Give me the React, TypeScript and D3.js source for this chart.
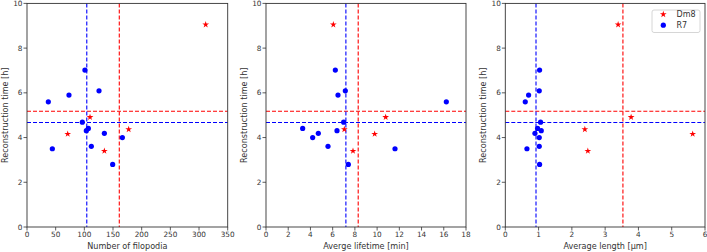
import React from "react";
import * as d3 from "d3";

// Reconstruction time [h] per cell
const r7Time = [7.02, 6.09, 5.9, 5.6, 4.69, 4.41, 4.31, 4.19, 4.0, 3.5, 3.61, 2.8];
const r7Filopodia = [101, 125.6, 73.2, 37.2, 96.5, 107, 103.5, 134.9, 166.3, 44.2, 112.2, 149.4];
const r7Lifetime = [6.24, 7.14, 6.48, 16.23, 6.99, 3.3, 6.39, 4.71, 4.2, 11.61, 5.58, 7.41];
const r7Length = [1.03, 1.02, 0.7, 0.6, 1.06, 0.97, 1.08, 0.89, 1.02, 0.65, 1.02, 1.03];

const dm8Time = [9.05, 4.91, 4.16, 4.37, 3.4];
const dm8Filopodia = [311.6, 109.9, 71, 177.3, 134.9];
const dm8Lifetime = [6.06, 10.77, 9.78, 7.05, 7.83];
const dm8Length = [3.39, 3.78, 5.63, 2.39, 2.48];

const yTicks = [0, 2, 4, 6, 8, 10];
const xTicks1 = [0, 50, 100, 150, 200, 250, 300, 350];
const xTicks2 = [0, 2, 4, 6, 8, 10, 12, 14, 16, 18];
const xTicks3 = [0, 1, 2, 3, 4, 5, 6];

const xLabels = ["Number of filopodia", "Averge lifetime [min]", "Average length [\u03bcm]"];
const yLabel = "Reconstruction time [h]";
const seriesNames = ["Dm8", "R7"];

const RED = "#ff0000";
const BLUE = "#0000ff";
const INK = "#333333";
const FONT = "DejaVu Sans, sans-serif";
const TICK_FS = 7.3;
const LABEL_FS = 8.1;

interface PanelProps {
  left: number;
  right: number;
  xMax: number;
  xTicks: number[];
  xLabel: string;
  r7X: number[];
  dm8X: number[];
  legend?: boolean;
}

const TOP = 3.4;
const BOTTOM = 227;

function Panel({ left, right, xMax, xTicks, xLabel, r7X, dm8X, legend }: PanelProps) {
  const x = d3.scaleLinear().domain([0, xMax]).range([left, right]);
  const y = d3.scaleLinear().domain([0, 10]).range([BOTTOM, TOP]);
  const star = d3.symbol().type(d3.symbolStar).size(14)() as string;

  const r7MeanX = d3.mean(r7X) as number;
  const dm8MeanX = d3.mean(dm8X) as number;
  const r7MeanY = d3.mean(r7Time) as number;
  const dm8MeanY = d3.mean(dm8Time) as number;

  return (
    <g>
      {/* mean lines */}
      <line x1={left} x2={right} y1={y(dm8MeanY)} y2={y(dm8MeanY)} stroke={RED} strokeWidth={1.1} strokeDasharray="4,2" />
      <line x1={left} x2={right} y1={y(r7MeanY)} y2={y(r7MeanY)} stroke={BLUE} strokeWidth={1.1} strokeDasharray="4,2" />
      <line x1={x(dm8MeanX)} x2={x(dm8MeanX)} y1={TOP} y2={BOTTOM} stroke={RED} strokeWidth={1.1} strokeDasharray="4,2" />
      <line x1={x(r7MeanX)} x2={x(r7MeanX)} y1={TOP} y2={BOTTOM} stroke={BLUE} strokeWidth={1.1} strokeDasharray="4,2" />

      {/* Dm8 */}
      {dm8X.map((v, i) => (
        <path key={"d" + i} d={star} transform={`translate(${x(v)},${y(dm8Time[i])})`} fill={RED} />
      ))}
      {/* R7 */}
      {r7X.map((v, i) => (
        <circle key={"r" + i} cx={x(v)} cy={y(r7Time[i])} r={2.6} fill={BLUE} />
      ))}

      {/* frame */}
      <rect x={left} y={TOP} width={right - left} height={BOTTOM - TOP} fill="none" stroke={INK} strokeWidth={0.9} />

      {/* x ticks */}
      {xTicks.map((t) => (
        <g key={"xt" + t}>
          <line x1={x(t)} x2={x(t)} y1={BOTTOM} y2={BOTTOM + 3.5} stroke={INK} strokeWidth={0.8} />
          <text x={x(t)} y={237.3} textAnchor="middle" fontSize={TICK_FS} fill={INK} fontFamily={FONT}>
            {t}
          </text>
        </g>
      ))}
      {/* y ticks */}
      {yTicks.map((t) => (
        <g key={"yt" + t}>
          <line x1={left - 3.5} x2={left} y1={y(t)} y2={y(t)} stroke={INK} strokeWidth={0.8} />
          <text x={left - 4.5} y={y(t) + 2.6} textAnchor="end" fontSize={TICK_FS} fill={INK} fontFamily={FONT}>
            {t}
          </text>
        </g>
      ))}

      <text x={(left + right) / 2} y={248.7} textAnchor="middle" fontSize={LABEL_FS} fill={INK} fontFamily={FONT}>
        {xLabel}
      </text>
      <text
        transform={`translate(${left - 19},${(TOP + BOTTOM) / 2}) rotate(-90)`}
        textAnchor="middle"
        fontSize={LABEL_FS}
        fill={INK}
        fontFamily={FONT}
      >
        {yLabel}
      </text>

      {legend && (
        <g>
          <rect x={652} y={10} width={48} height={22.5} rx={2} fill="#ffffff" fillOpacity={0.8} stroke="#cccccc" strokeWidth={0.8} />
          <path d={star} transform="translate(663.3,14.3)" fill={RED} />
          <text x={676.5} y={17.2} fontSize={8} fill={INK} fontFamily={FONT}>
            {seriesNames[0]}
          </text>
          <circle cx={663.3} cy={25.2} r={2.6} fill={BLUE} />
          <text x={676.5} y={28.1} fontSize={8} fill={INK} fontFamily={FONT}>
            {seriesNames[1]}
          </text>
        </g>
      )}
    </g>
  );
}

export default function App() {
  return (
    <svg width={707} height={252} style={{ position: "absolute", left: 0, top: 0, background: "#fff" }}>
      <rect width={707} height={252} fill="#ffffff" />
      <Panel left={27} right={227.7} xMax={350} xTicks={xTicks1} xLabel={xLabels[0]} r7X={r7Filopodia} dm8X={dm8Filopodia} />
      <Panel left={266} right={466} xMax={18} xTicks={xTicks2} xLabel={xLabels[1]} r7X={r7Lifetime} dm8X={dm8Lifetime} />
      <Panel left={505.3} right={705} xMax={6} xTicks={xTicks3} xLabel={xLabels[2]} r7X={r7Length} dm8X={dm8Length} legend />
    </svg>
  );
}
